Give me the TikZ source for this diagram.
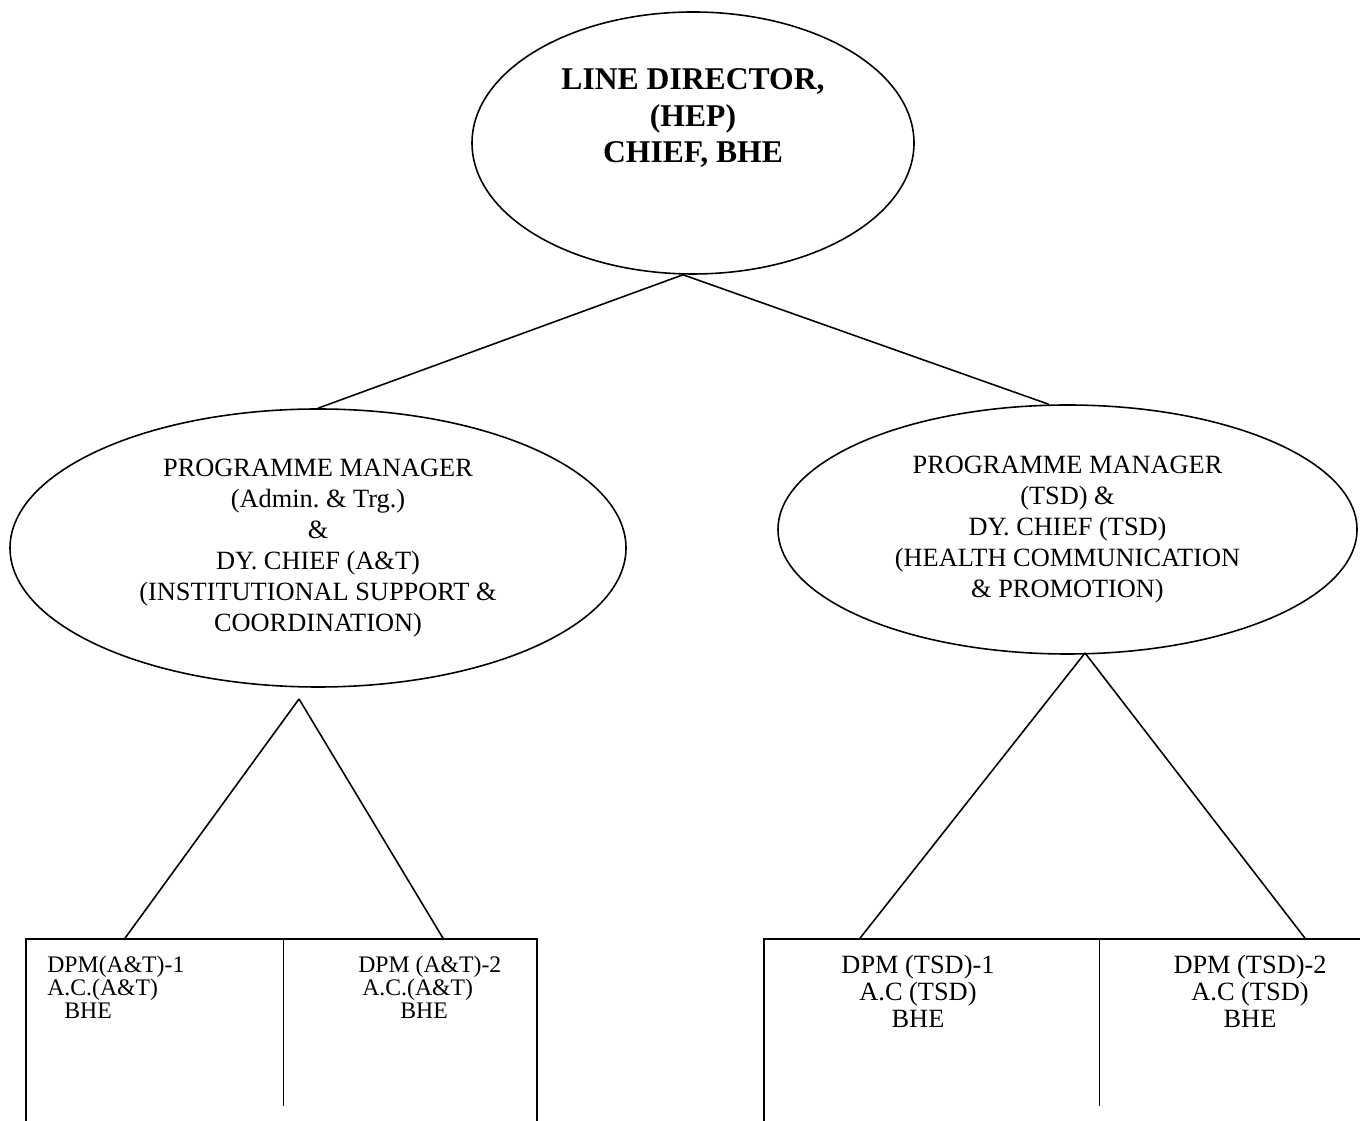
\documentclass[tikz,border=0pt]{standalone}
\usepackage{fontspec}
\setmainfont{Liberation Serif}
\usetikzlibrary{shapes.geometric}

\begin{document}
\frenchspacing
\begin{tikzpicture}[
  oval/.style={draw,ellipse,line width=0.9pt,inner sep=0pt,align=center},
  cell/.style={draw,line width=0.9pt,inner sep=0pt},
  txt/.style={inner sep=0pt,font=\fontsize{13.5}{13}\selectfont,align=left},
  ctxt/.style={inner sep=0pt,font=\fontsize{15}{15.3}\selectfont,align=center},
  ln/.style={line width=0.9pt}]
\useasboundingbox (0,0) rectangle (27.2,22.4);
\clip (0,0) rectangle (27.2,22.4);
% ---- line director
\node[oval,minimum width=8.84cm,minimum height=5.24cm] (ld) at (13.86,19.54) {};
\node[inner sep=0pt,align=center,font=\fontsize{18}{21}\selectfont\bfseries] (ldtxt) at (13.86,20.04) {LINE DIRECTOR,\\(HEP)\\CHIEF, BHE};
% ---- programme managers
\node[oval,minimum width=12.32cm,minimum height=5.56cm,font=\fontsize{15}{17.6}\selectfont] (pmat) at (6.36,11.44) {PROGRAMME MANAGER\\(Admin. \& Trg.)\\\&\\DY. CHIEF (A\&T)\\(INSTITUTIONAL SUPPORT \&\\COORDINATION)};
\node[oval,minimum width=11.58cm,minimum height=4.98cm,font=\fontsize{15}{17.6}\selectfont] (pmtsd) at (21.35,11.81) {PROGRAMME MANAGER\\(TSD) \&\\DY. CHIEF (TSD)\\(HEALTH COMMUNICATION\\\& PROMOTION)};
\draw[ln] ([xshift=-0.2cm]ld.south) -- (pmat.north);
\draw[ln] ([xshift=-0.2cm]ld.south) -- ([xshift=-0.38cm]pmtsd.north);
% ---- deputy boxes
\node[cell,minimum width=10.22cm,minimum height=3.82cm] (atbox) at (5.63,1.71) {};
\node[cell,minimum width=12.12cm,minimum height=3.82cm] (tsdbox) at (21.34,1.71) {};
\draw[ln] (5.67,0 |- atbox.north) -- (5.67,0.28);
\draw[ln] (21.99,0 |- tsdbox.north) -- (21.99,0.28);
\coordinate (atjoin) at (5.98,8.42);
\coordinate (tsdjoin) at (21.7,9.34);
\draw[ln] (atjoin) -- (2.5,0 |- atbox.north);
\draw[ln] (atjoin) -- (8.86,0 |- atbox.north);
\draw[ln] (tsdjoin) -- (17.2,0 |- tsdbox.north);
\draw[ln] (tsdjoin) -- (26.1,0 |- tsdbox.north);
\node[txt,anchor=north west] (dpmat1) at (0.94,3.29) {DPM(A\&T)-1\\A.C.(A\&T)\\\hspace*{0.34cm}BHE};
\node[txt,anchor=north west] (dpmat2) at (7.16,3.29) {DPM (A\&T)-2\\\hspace*{0.08cm}A.C.(A\&T)\\\hspace*{0.84cm}BHE};
\node[ctxt,anchor=north] (dpmtsd1) at (18.36,3.3) {DPM (TSD)-1\\A.C (TSD)\\BHE};
\node[ctxt,anchor=north] (dpmtsd2) at (25.0,3.3) {DPM (TSD)-2\\A.C (TSD)\\BHE};
\end{tikzpicture}
\end{document}
